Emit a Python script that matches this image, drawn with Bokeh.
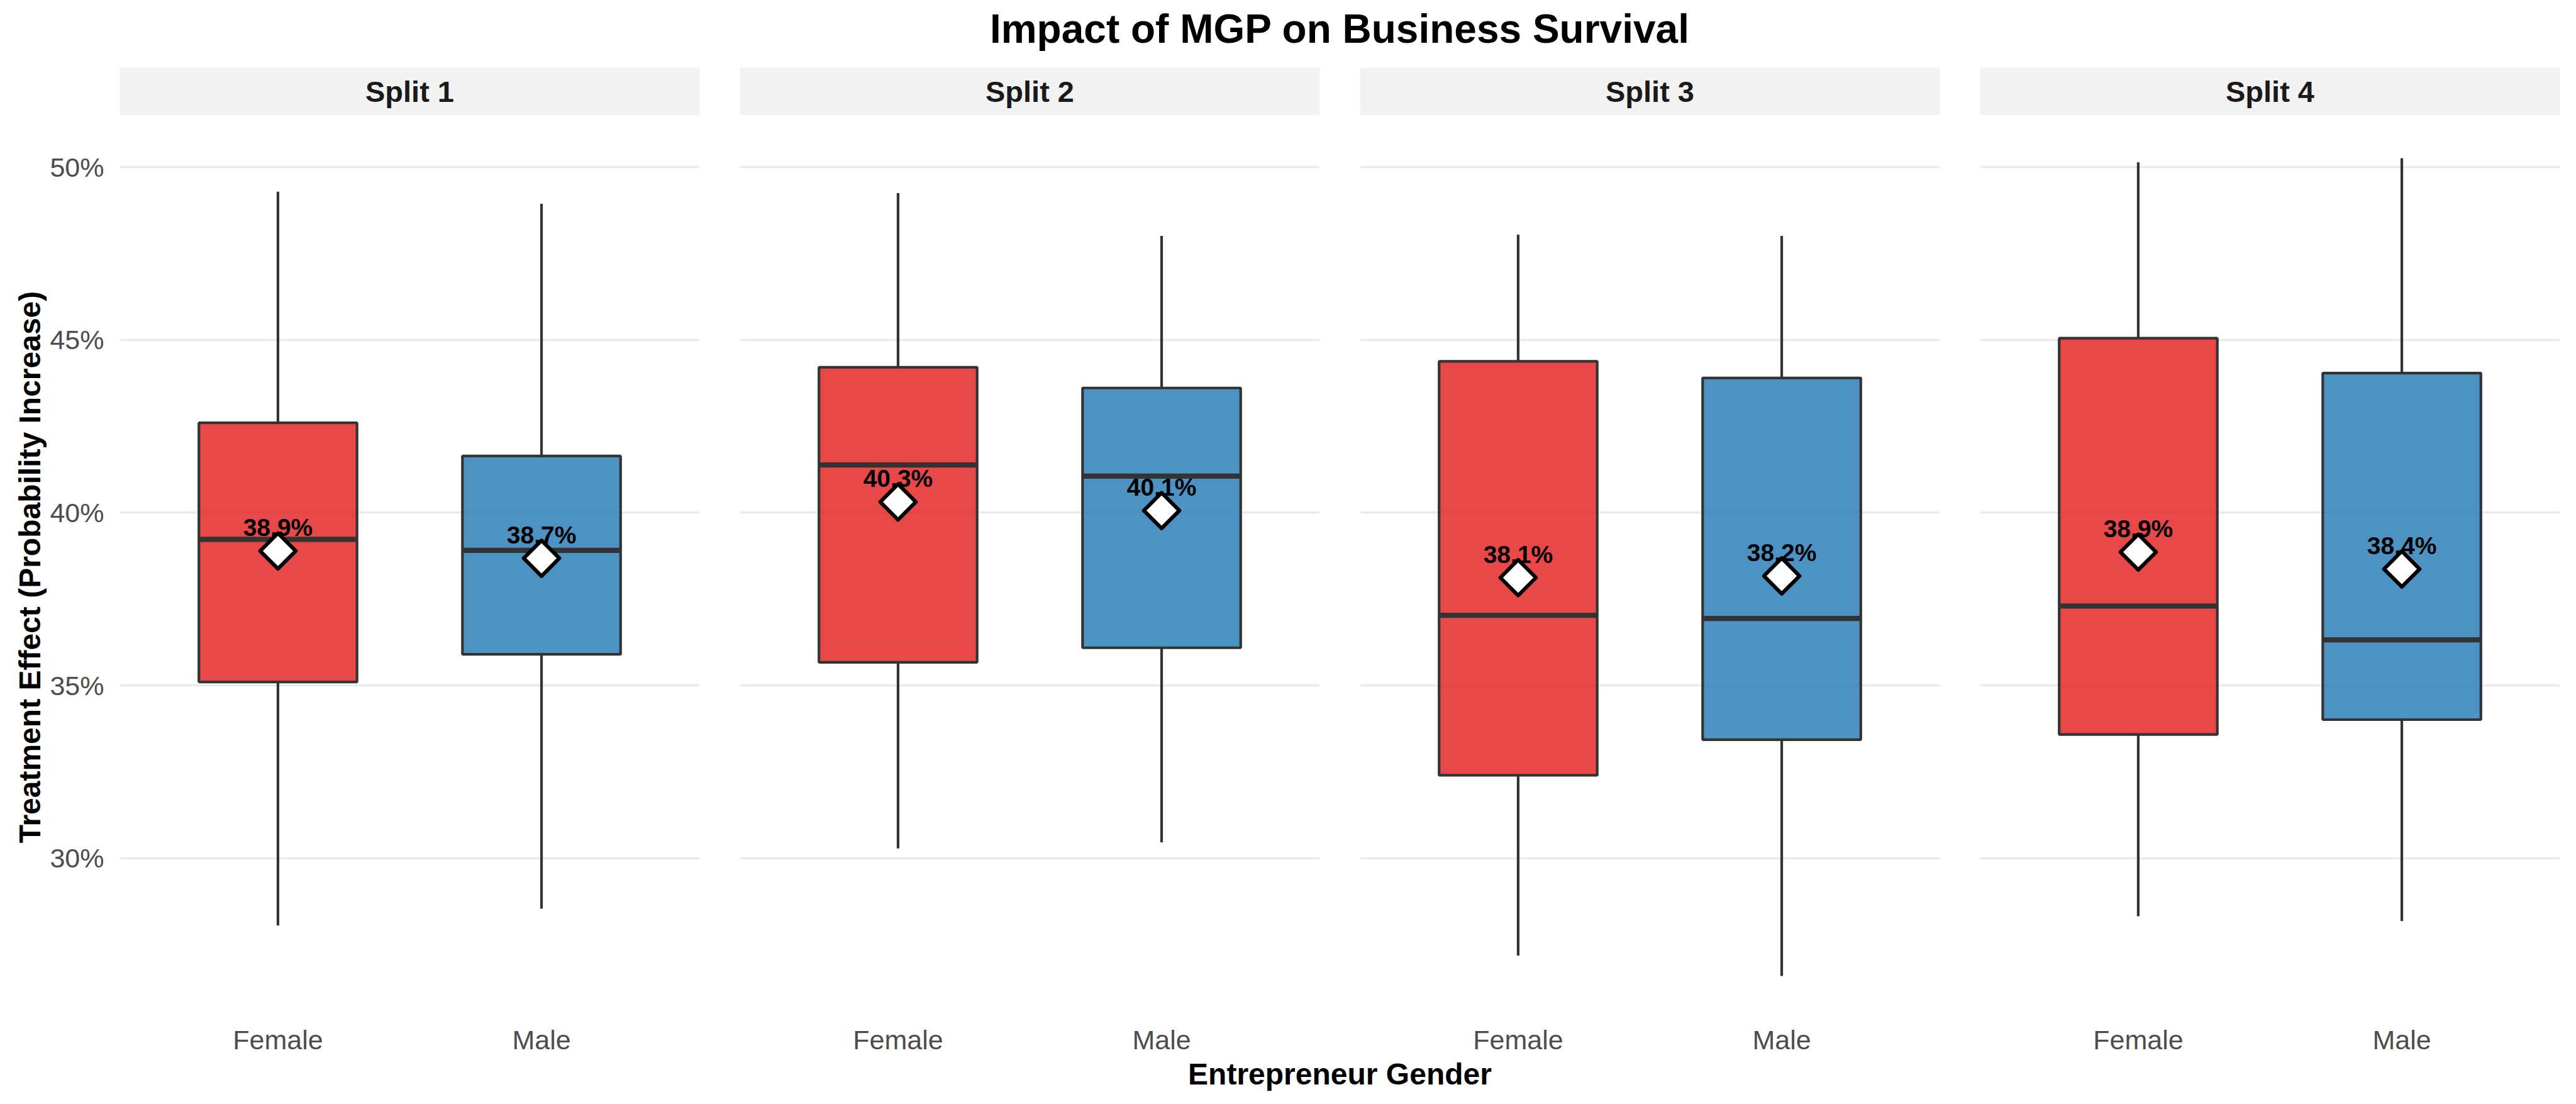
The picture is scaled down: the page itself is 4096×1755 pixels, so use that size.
import numpy as np
from bokeh.plotting import figure
from bokeh.layouts import row, column
from bokeh.models import (FactorRange, Range1d, FixedTicker, NumeralTickFormatter,
                          ColumnDataSource)
from bokeh.core.properties import value
from bokeh.embed import file_html
from bokeh.resources import INLINE

# ---------------- data ----------------
title_text = "Impact of MGP on Business Survival"
x_title = "Entrepreneur Gender"
y_title = "Treatment Effect (Probability Increase)"
splits = ["Split 1", "Split 2", "Split 3", "Split 4"]
genders = ["Female", "Male"]
y_ticks = [0.30, 0.35, 0.40, 0.45, 0.50]

# one [Female, Male] pair per split
whisker_low = [[0.2805, 0.2854], [0.3028, 0.3046], [0.2718, 0.2659], [0.2832, 0.2818]]
q1 = [[0.3510, 0.3590], [0.3567, 0.3609], [0.3240, 0.3343], [0.3358, 0.3401]]
median = [[0.3923, 0.3891], [0.4138, 0.4106], [0.3703, 0.3694], [0.3730, 0.3632]]
q3 = [[0.4260, 0.4164], [0.4421, 0.4361], [0.4438, 0.4390], [0.4505, 0.4404]]
whisker_high = [[0.4929, 0.4894], [0.4925, 0.4801], [0.4805, 0.4801], [0.5014, 0.5026]]
mean = [[0.3889, 0.3868], [0.4031, 0.4006], [0.3812, 0.3817], [0.3886, 0.3837]]
colors = ["#E31A1C", "#1F78B4"]

# ---------------- layout / style ----------------
FONT = "Liberation Sans"
W, H = 4096, 1755
LEFT, PW, GAP, RIGHT = 190, 922, 64, 26
HEADER_H, STRIP_H = 107, 76
PANEL_TOP, PANEL_H, PANEL_BOTTOM = 3, 1430, 64
FOOTER_H = H - HEADER_H - STRIP_H - PANEL_TOP - PANEL_H - PANEL_BOTTOM
FOOTER_TOP = H - FOOTER_H
half = GAP // 2
borders = [(LEFT, half), (half, half), (half, half), (half, RIGHT)]
center_x = (LEFT + (LEFT + 4 * PW + 3 * GAP)) / 2

all_lo = min(min(v) for v in whisker_low)
all_hi = max(max(v) for v in whisker_high)
pad = 0.05 * (all_hi - all_lo)
y_lo, y_hi = all_lo - pad, all_hi + pad

EDGE = "#333333"
LW = 4.2


def make_strip(i):
    bl, br = borders[i]
    s = figure(width=bl + PW + br, height=STRIP_H, x_range=Range1d(0, 1),
               y_range=Range1d(0, STRIP_H), x_axis_location=None, y_axis_location=None,
               min_border_left=bl, min_border_right=br, min_border_top=0, min_border_bottom=0,
               output_backend="svg", toolbar_location=None)
    s.grid.visible = False
    s.outline_line_color = None
    s.background_fill_color = "#F2F2F2"
    s.border_fill_color = "white"
    s.text(x=[0.5], y=[STRIP_H / 2], text=[splits[i]], text_font=value(FONT),
           text_font_size=value("47px"), text_font_style="bold", text_color="#1A1A1A",
           text_align="center", text_baseline="middle")
    return s


def make_panel(i):
    bl, br = borders[i]
    p = figure(width=bl + PW + br, height=PANEL_TOP + PANEL_H + PANEL_BOTTOM,
               x_range=FactorRange(factors=genders, range_padding=0.1,
                                   range_padding_units="absolute"),
               y_range=Range1d(y_lo, y_hi),
               y_axis_location="left" if i == 0 else None,
               min_border_left=bl, min_border_right=br,
               min_border_top=PANEL_TOP, min_border_bottom=PANEL_BOTTOM,
               output_backend="svg", toolbar_location=None)
    p.outline_line_color = None
    p.background_fill_color = "white"
    p.xgrid.visible = False
    p.ygrid.ticker = FixedTicker(ticks=y_ticks)
    p.ygrid.grid_line_color = "#EBEBEB"
    p.ygrid.grid_line_width = 3.4

    p.xaxis.axis_line_color = None
    p.xaxis.major_tick_line_color = None
    p.xaxis.minor_tick_line_color = None
    p.xaxis.major_label_text_font = FONT
    p.xaxis.major_label_text_font_size = "43px"
    p.xaxis.major_label_text_color = "#4D4D4D"
    p.xaxis.major_label_standoff = 6

    if i == 0:
        p.yaxis.ticker = FixedTicker(ticks=y_ticks)
        p.yaxis.formatter = NumeralTickFormatter(format="0%")
        p.yaxis.axis_line_color = None
        p.yaxis.major_tick_line_color = None
        p.yaxis.minor_tick_line_color = None
        p.yaxis.major_label_text_font = FONT
        p.yaxis.major_label_text_font_size = "43px"
        p.yaxis.major_label_text_color = "#4D4D4D"
        p.yaxis.major_label_standoff = 19
        p.yaxis.axis_label = y_title
        p.yaxis.axis_label_text_font = FONT
        p.yaxis.axis_label_text_font_size = "48px"
        p.yaxis.axis_label_text_font_style = "bold"
        p.yaxis.axis_label_text_color = "black"
        p.yaxis.axis_label_standoff = 2

    src = ColumnDataSource(dict(
        g=genders, lo=whisker_low[i], q1=q1[i], med=median[i], q3=q3[i],
        hi=whisker_high[i], mean=mean[i], color=colors,
        label=[f"{m * 100:.1f}%" for m in mean[i]],
    ))
    p.segment(x0="g", y0="q3", x1="g", y1="hi", source=src, line_color=EDGE, line_width=LW)
    p.segment(x0="g", y0="q1", x1="g", y1="lo", source=src, line_color=EDGE, line_width=LW)
    p.vbar(x="g", width=0.6, bottom="q1", top="q3", source=src, fill_color="color",
           fill_alpha=0.8, line_color=EDGE, line_width=LW)
    p.rect(x="g", y="med", width=0.6, height=8.2, height_units="screen", source=src,
           fill_color=EDGE, line_color=None)
    p.scatter(x="g", y="mean", source=src, marker="square", angle=np.pi / 4, size=40,
              fill_color="white", line_color="black", line_width=6, line_join="round")
    p.text(x="g", y="mean", text="label", source=src, text_font=value(FONT),
           text_font_size=value("39px"), text_font_style="bold", text_color="black",
           text_align="center", text_baseline="middle", y_offset=-37)
    return p


def make_band(height, text, mid_y, size):
    b = figure(width=W, height=height, x_range=Range1d(0, W), y_range=Range1d(height, 0),
               x_axis_location=None, y_axis_location=None, min_border=0,
               output_backend="svg", toolbar_location=None)
    b.grid.visible = False
    b.outline_line_color = None
    b.text(x=[center_x], y=[mid_y], text=[text], text_font=value(FONT),
           text_font_size=value(size), text_font_style="bold", text_color="black",
           text_align="center", text_baseline="middle")
    return b


header = make_band(HEADER_H, title_text, 45.3, "64px")
footer = make_band(FOOTER_H, x_title, 1707.2 - FOOTER_TOP, "48px")
cols = [column(make_strip(i), make_panel(i)) for i in range(4)]
layout = column(header, row(*cols), footer)

open("out.html", "w").write(file_html(layout, INLINE))
